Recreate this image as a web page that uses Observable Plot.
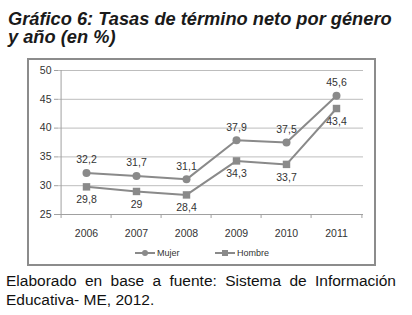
<!DOCTYPE html>
<html><head><meta charset="utf-8">
<script src="https://cdn.jsdelivr.net/npm/d3@7"></script>
<script src="https://cdn.jsdelivr.net/npm/@observablehq/plot@0.6"></script>
<style>
body{margin:0;background:#fff;width:412px;height:315px;overflow:hidden;position:relative;font-family:"Liberation Sans",Arial,sans-serif;}
#title{position:absolute;left:8px;top:10px;font-size:18px;line-height:17.5px;font-weight:bold;font-style:italic;color:#1a1a1a;white-space:nowrap;}
#box{position:absolute;left:27px;top:58px;width:349px;height:208px;box-sizing:border-box;border:2.5px solid #8c8c8c;z-index:2;pointer-events:none;}
#chart{position:absolute;left:27px;top:58px;}
#legend{position:absolute;left:27px;top:246px;width:349px;height:14px;}
.lg{position:absolute;top:0;display:flex;align-items:center;font-size:9px;color:#333;height:14px;}
#caption{position:absolute;left:6px;top:271px;width:390px;font-size:15.5px;line-height:19px;color:#111;}
#caption .l1{text-align:justify;text-align-last:justify;}
</style></head>
<body>
<div id="title"><span id="t1">Gráfico 6: Tasas de término neto por género</span><br>y año (en %)</div>
<div id="chart"></div>
<div id="legend"></div>
<div id="box"></div>
<div id="caption"><div class="l1">Elaborado en base a fuente: Sistema de Información</div><div>Educativa- ME, 2012.</div></div>
<script>
const years = ["2006","2007","2008","2009","2010","2011"];
const mujer = [32.2, 31.7, 31.1, 37.9, 37.5, 45.6];
const hombre = [29.8, 29.0, 28.4, 34.3, 33.7, 43.4];
const mujerLabels = ["32,2","31,7","31,1","37,9","37,5","45,6"];
const hombreLabels = ["29,8","29","28,4","34,3","33,7","43,4"];
const yTicks = [25, 30, 35, 40, 45, 50];
const seriesNames = ["Mujer", "Hombre"];

// fit title line 1 to the reference width (~384px)
const t1 = document.getElementById("t1");
const tw = t1.getBoundingClientRect().width;
if (tw > 0) {
  const fs = Math.min(19.5, 18 * 384 / tw);
  document.getElementById("title").style.fontSize = fs + "px";
}

const dM = years.map((y,i)=>({year:y, v:mujer[i], label:mujerLabels[i]}));
const dH = years.map((y,i)=>({year:y, v:hombre[i], label:hombreLabels[i]}));

const W = 349, H = 190, ML = 31, MR = 13, MT = 12, MB = 34;
const step = (W - ML - MR) / years.length;
const lineColor = "#8a8a8a";
const textColor = "#333";

const plot = Plot.plot({
  width: W, height: H,
  marginLeft: ML, marginRight: MR, marginTop: MT, marginBottom: MB,
  style: {background: "transparent", fontFamily: "'Liberation Sans', Arial, sans-serif", fontSize: "10.5px", color: textColor, overflow: "visible"},
  x: {type: "band", domain: years, padding: 0, label: null},
  y: {domain: [25, 50], label: null},
  marks: [
    Plot.gridY(yTicks.filter(t=>t>25), {stroke: "#bdbdbd", strokeOpacity: 1, strokeWidth: 1}),
    Plot.ruleY([25], {stroke: "#a0a0a0"}),
    Plot.ruleX([years[0]], {dx: -step/2, y1: 25, y2: 50, stroke: "#a0a0a0"}),
    Plot.ruleX(years, {x: d=>d, dx: -step/2, y1: 25, y2: 25, insetBottom: -4, stroke: "#a0a0a0"}),
    Plot.ruleX([years[years.length-1]], {dx: step/2, y1: 25, y2: 25, insetBottom: -4, stroke: "#a0a0a0"}),
    Plot.axisY({ticks: yTicks, tickSize: 4, tickPadding: 3, stroke: "#a0a0a0", tickFormat: d=>String(d), fontSize: 10.5, fill: textColor}),
    Plot.axisX({tickSize: 0, tickPadding: 15, fontSize: 10.5, fill: textColor}),
    Plot.line(dM, {x: "year", y: "v", stroke: lineColor, strokeWidth: 2}),
    Plot.line(dH, {x: "year", y: "v", stroke: lineColor, strokeWidth: 2}),
    Plot.dot(dM, {x: "year", y: "v", r: 4, fill: lineColor, symbol: "circle"}),
    Plot.dot(dH, {x: "year", y: "v", r: 4.2, fill: lineColor, symbol: "square"}),
    Plot.text(dM, {x: "year", y: "v", text: "label", dy: -13, fill: textColor, fontSize: 10.5}),
    Plot.text(dH, {x: "year", y: "v", text: "label", dy: 13, fill: textColor, fontSize: 10.5})
  ]
});
document.getElementById("chart").appendChild(plot);

// legend
const legend = document.getElementById("legend");
const legendPos = [108, 188];
const shapes = ["circle", "square"];
seriesNames.forEach((name, i) => {
  const item = document.createElement("div");
  item.className = "lg";
  item.style.left = legendPos[i] + "px";
  const marker = shapes[i] === "circle"
    ? `<circle cx="10" cy="7" r="3" fill="${lineColor}"/>`
    : `<rect x="7" y="4" width="6" height="6" fill="${lineColor}"/>`;
  item.innerHTML = `<svg width="20" height="14"><line x1="0" x2="20" y1="7" y2="7" stroke="${lineColor}" stroke-width="2"/>${marker}</svg><span style="margin-left:2px">${name}</span>`;
  legend.appendChild(item);
});
</script>
</body></html>
